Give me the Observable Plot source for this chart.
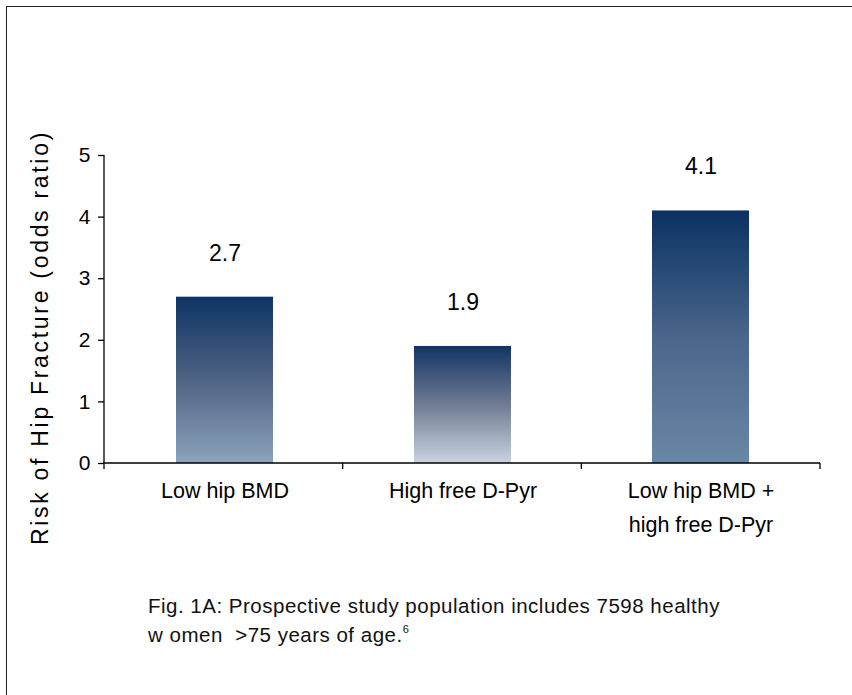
<!DOCTYPE html>
<html>
<head>
<meta charset="utf-8">
<script src="https://cdn.jsdelivr.net/npm/d3@7"></script>
<script src="https://cdn.jsdelivr.net/npm/@observablehq/plot@0.6"></script>
<style>
  html, body { margin: 0; padding: 0; background: #ffffff; }
  #wrap { position: relative; width: 852px; height: 695px; overflow: hidden; font-family: "Liberation Sans", Arial, sans-serif; }
  #border { position: absolute; left: 6px; top: 6px; width: 860px; height: 700px; border-left: 1.5px solid #222; border-top: 1.5px solid #222; box-sizing: border-box; }
  #chart { position: absolute; left: 0; top: 0; }
  #caption { position: absolute; left: 148px; top: 591px; font-size: 20.5px; letter-spacing: 0.5px; line-height: 29px; color: #111; white-space: nowrap; }
  #caption sup { font-size: 11px; vertical-align: 9px; line-height: 0; }
</style>
</head>
<body>
<div id="wrap">
  <div id="border"></div>
  <div id="chart"></div>
  <div id="caption">Fig. 1A: Prospective study population includes 7598 healthy<br>w omen&nbsp; &gt;75 years of age.<sup>6</sup></div>
</div>
<script>
// ---- data ----
const categories = ["Low hip BMD", "High free D-Pyr", "Low hip BMD +\nhigh free D-Pyr"];
const oddsRatios = [2.7, 1.9, 4.1];
const valueLabels = ["2.7", "1.9", "4.1"];
const yTicks = [0, 1, 2, 3, 4, 5];
const yTitle = "Risk of Hip Fracture (odds ratio)";
// gradient stops per bar (top, middle, bottom)
const barGradients = [
  ["#0e3464", "#4f6384", "#8ba3bc"],
  ["#123465", "#6f7b93", "#c9d4df"],
  ["#0a3163", "#4a668b", "#6987a6"]
];

const rows = categories.map((c, i) => ({category: c, value: oddsRatios[i], label: valueLabels[i], idx: i}));

// defs with gradients
function gradientDefs() {
  const defs = d3.create("svg:defs");
  barGradients.forEach((stops, i) => {
    const g = defs.append("linearGradient").attr("id", "barGrad" + i)
      .attr("x1", 0).attr("y1", 0).attr("x2", 0).attr("y2", 1);
    g.append("stop").attr("offset", "0%").attr("stop-color", stops[0]);
    g.append("stop").attr("offset", "50%").attr("stop-color", stops[1]);
    g.append("stop").attr("offset", "100%").attr("stop-color", stops[2]);
  });
  return defs.node();
}

// axis lines and category boundary ticks
function axisLines(index, scales, values, dimensions) {
  const {width, marginLeft, marginRight} = dimensions;
  const y = scales.y;
  const r0 = marginLeft, r1 = width - marginRight;
  const step = (r1 - r0) / categories.length;
  const y0 = y(0);
  const g = d3.create("svg:g").attr("stroke", "#000").attr("stroke-width", 1.3).attr("fill", "none");
  g.append("line").attr("x1", r0).attr("x2", r0).attr("y1", y(yTicks[yTicks.length - 1])).attr("y2", y0);
  g.append("line").attr("x1", r0 - 0.5).attr("x2", r1).attr("y1", y0).attr("y2", y0);
  for (let i = 0; i <= categories.length; i++) {
    const bx = r0 + i * step;
    g.append("line").attr("x1", bx).attr("x2", bx).attr("y1", y0).attr("y2", y0 + 6);
  }
  return g.node();
}

const plot = Plot.plot({
  width: 852,
  height: 580,
  marginLeft: 104,
  marginRight: 32,
  marginTop: 155,
  marginBottom: 117,
  style: {fontFamily: "Liberation Sans, Arial, sans-serif", background: "transparent", color: "#000", overflow: "visible"},
  x: {domain: categories, paddingInner: 0.594, paddingOuter: 0.297, axis: null},
  y: {domain: [0, 5], axis: null},
  marks: [
    gradientDefs,
    ...rows.map((r) => Plot.barY([r], {x: "category", y: "value", fill: `url(#barGrad${r.idx})`})),
    Plot.text(rows, {x: "category", y: "value", text: "label", dy: -44, fontSize: 23, fill: "#000"}),
    Plot.axisY({ticks: yTicks, tickFormat: d3.format("d"), tickSize: 6, tickPadding: 8, fontSize: 21, label: null, stroke: "#000", strokeWidth: 1.3}),
    Plot.axisX({tickSize: 0, tickPadding: 11, fontSize: 21.5, lineHeight: 1.56, label: null}),
    Plot.text([yTitle], {frameAnchor: "left", rotate: -90, textAnchor: "middle", dx: -64, dy: 28, fontSize: 23, fill: "#000"}),
    axisLines
  ]
});

document.getElementById("chart").appendChild(plot);
plot.querySelectorAll("text").forEach((t) => {
  if (t.textContent === yTitle) t.style.letterSpacing = "2.7px";
  if (yTicks.map(String).includes(t.textContent)) t.style.fontSize = "21px";
});
</script>
</body>
</html>
